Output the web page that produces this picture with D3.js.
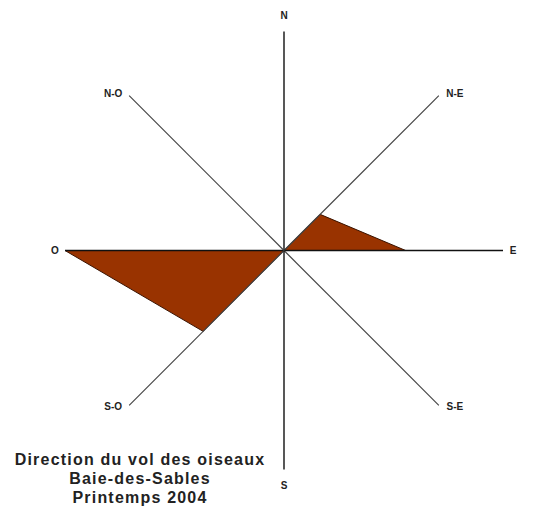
<!DOCTYPE html>
<html>
<head>
<meta charset="utf-8">
<script src="https://cdn.jsdelivr.net/npm/d3@7"></script>
<style>
  body { margin: 0; background: #fff; }
  text { font-family: "Liberation Sans", Arial, sans-serif; }
</style>
</head>
<body>
<div id="chart"></div>
<script>
// directions, clockwise from north
const directions = ["N", "N-E", "E", "S-E", "S", "S-O", "O", "N-O"];
// number of birds seen flying toward each direction
const birdCounts = [0, 4.2, 10, 0, 0, 9.4, 18, 0];
const titleLines = ["Direction du vol des oiseaux", "Baie-des-Sables", "Printemps 2004"];

const width = 539, height = 520;
const cx = 284, cy = 250.5;
const radius = 219;

const svg = d3.select("#chart")
  .append("svg")
  .attr("width", width)
  .attr("height", height);

const g = svg.append("g")
  .attr("transform", `translate(${cx}, ${cy})`);

// radial scale and angle scale
const r = d3.scaleLinear()
  .domain([0, d3.max(birdCounts)])
  .range([0, radius]);

const angle = d3.scaleLinear()
  .domain([0, directions.length])
  .range([0, 2 * Math.PI]);

// the data polygon (drawn under the axes)
const radial = d3.lineRadial()
  .angle(function(d, i) { return angle(i); })
  .radius(function(d) { return r(d); })
  .curve(d3.curveLinearClosed);

g.append("path")
  .datum(birdCounts)
  .attr("d", radial)
  .attr("fill", "#993300")
  .attr("stroke", "#3a1300")
  .attr("stroke-width", 1)
  .attr("stroke-linejoin", "round");

// axes
const axes = g.selectAll(".axis")
  .data(directions)
  .enter()
  .append("g")
  .attr("class", "axis");

function endX(i) { return radius * Math.sin(angle(i)); }
function endY(i) { return -radius * Math.cos(angle(i)); }

axes.append("line")
  .attr("x1", 0)
  .attr("y1", 0)
  .attr("x2", function(d, i) { return endX(i); })
  .attr("y2", function(d, i) { return endY(i); })
  .attr("stroke", function(d, i) { return i % 2 == 0 ? "#111" : "#444"; })
  .attr("stroke-width", function(d, i) { return i % 2 == 0 ? 1.4 : 1.2; });

// labels sit just past the end of each line
axes.append("text")
  .attr("x", function(d, i) {
    const s = Math.round(Math.sin(angle(i)) * 100) / 100;
    if (i % 2 == 1) return endX(i) + Math.sign(s) * 16;
    return endX(i) + s * 10;
  })
  .attr("y", function(d, i) {
    const c = Math.round(Math.cos(angle(i)) * 100) / 100;
    if (i % 2 == 1) return endY(i) + (c > 0 ? -2 : 1);
    return endY(i) - c * 16;
  })
  .attr("text-anchor", "middle")
  .attr("dominant-baseline", "central")
  .attr("font-size", 10)
  .attr("font-weight", "bold")
  .attr("fill", "#222")
  .text(function(d) { return d; });

// title block
svg.append("g")
  .selectAll("text")
  .data(titleLines)
  .enter()
  .append("text")
  .attr("x", 140)
  .attr("y", function(d, i) { return 465 + i * 19; })
  .attr("text-anchor", "middle")
  .attr("font-size", 16)
  .attr("letter-spacing", 1.2)
  .attr("font-weight", "bold")
  .attr("fill", "#222")
  .text(function(d) { return d; });
</script>
</body>
</html>
